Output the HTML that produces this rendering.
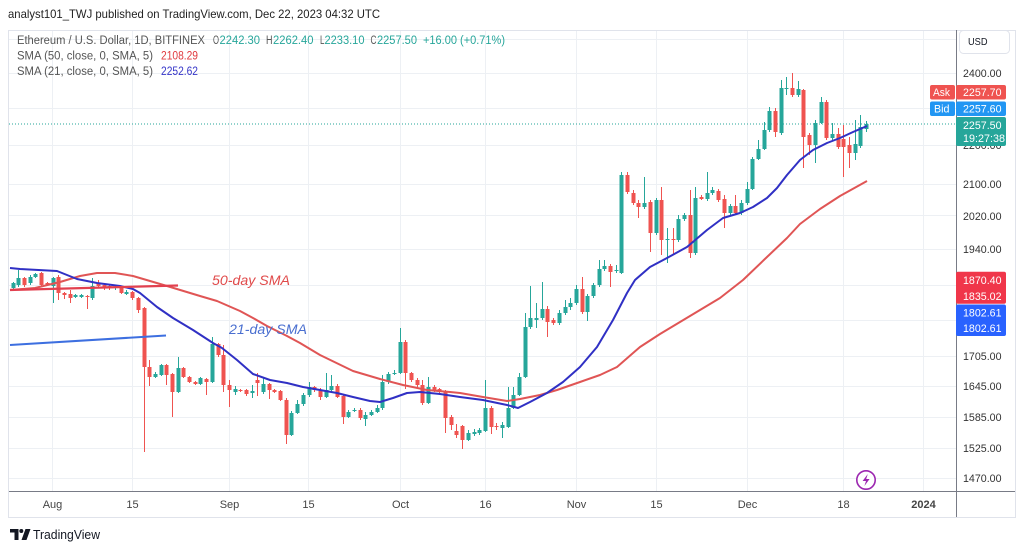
<!DOCTYPE html>
<html><head><meta charset="utf-8">
<style>
html,body{margin:0;padding:0;background:#fff;}
svg{display:block;}
text{font-family:"Liberation Sans",sans-serif;}
</style></head>
<body>
<svg id="s" width="1024" height="551" viewBox="0 0 1024 551" xmlns="http://www.w3.org/2000/svg">
<rect width="1024" height="551" fill="#fff"/>
<text x="8" y="18" font-size="12" fill="#222" textLength="372" lengthAdjust="spacingAndGlyphs">analyst101_TWJ published on TradingView.com, Dec 22, 2023 04:32 UTC</text>
<rect x="8.5" y="30.5" width="1007" height="487" fill="#fff" stroke="#e0e3eb"/>
<g stroke="#edf0f4" stroke-width="1">
<line x1="52.5" x2="52.5" y1="31" y2="491"/>
<line x1="132.5" x2="132.5" y1="31" y2="491"/>
<line x1="229.5" x2="229.5" y1="31" y2="491"/>
<line x1="308.5" x2="308.5" y1="31" y2="491"/>
<line x1="400.5" x2="400.5" y1="31" y2="491"/>
<line x1="485.5" x2="485.5" y1="31" y2="491"/>
<line x1="576.5" x2="576.5" y1="31" y2="491"/>
<line x1="656.5" x2="656.5" y1="31" y2="491"/>
<line x1="747.5" x2="747.5" y1="31" y2="491"/>
<line x1="843.5" x2="843.5" y1="31" y2="491"/>
<line x1="923.5" x2="923.5" y1="31" y2="491"/>
<line x1="9" x2="956" y1="39.5" y2="39.5"/>
<line x1="9" x2="956" y1="73.5" y2="73.5"/>
<line x1="9" x2="956" y1="108.5" y2="108.5"/>
<line x1="9" x2="956" y1="145.5" y2="145.5"/>
<line x1="9" x2="956" y1="184.5" y2="184.5"/>
<line x1="9" x2="956" y1="215.5" y2="215.5"/>
<line x1="9" x2="956" y1="249.5" y2="249.5"/>
<line x1="9" x2="956" y1="285.5" y2="285.5"/>
<line x1="9" x2="956" y1="320.5" y2="320.5"/>
<line x1="9" x2="956" y1="356.5" y2="356.5"/>
<line x1="9" x2="956" y1="386.5" y2="386.5"/>
<line x1="9" x2="956" y1="417.5" y2="417.5"/>
<line x1="9" x2="956" y1="448.5" y2="448.5"/>
<line x1="9" x2="956" y1="478.5" y2="478.5"/>
</g>
<line x1="9" x2="956" y1="124" y2="124" stroke="#26a69a" stroke-width="1" stroke-dasharray="1,2"/>
<g id="c"></g>
<polyline fill="none" stroke="#e05555" stroke-width="2" stroke-linejoin="round" points="10,290 35,288 60,282 80,276 97,273 115,273 133,276 150,281 167,286 200,296 217,301 240,311 253,318 267,326 287,336 300,343 320,355 353,371 380,379 403,385 427,390 450,392 460,393 483,397 507,401 520,399 540,395 557,390 580,382 600,375 617,367 640,347 660,334 690,316 720,298 743,280 767,257 787,238 800,224 820,209 840,196 867,181"/>
<polyline fill="none" stroke="#3030c4" stroke-width="2" stroke-linejoin="round" points="10,268 20,269 57,271 67,275 77,279 97,283 120,286 133,289 140,293 157,307 173,318 193,330 213,343 222,348 237,360 253,374 270,380 287,383 303,387 320,390 337,393 353,397 370,401 380,402 393,398 407,393 420,392 440,394 460,397 483,400 507,405 518,408 530,402 547,393 563,382 580,367 597,347 613,320 627,293 635,280 650,267 667,258 687,247 707,230 723,218 740,213 753,207 767,198 777,188 787,175 800,160 813,150 827,143 840,138 853,132 867,126"/>
<line x1="10" y1="290" x2="178" y2="285.5" stroke="#e2404f" stroke-width="2.2"/>
<line x1="10" y1="345" x2="166" y2="335.5" stroke="#3d6fe0" stroke-width="2"/>
<text x="212" y="285" font-size="14" font-style="italic" fill="#e04a4a" textLength="78" lengthAdjust="spacingAndGlyphs">50-day SMA</text>
<text x="229" y="334" font-size="14" font-style="italic" fill="#4a6fd0" textLength="78" lengthAdjust="spacingAndGlyphs">21-day SMA</text>

<!-- legend -->
<g font-size="11.5">
<text x="17" y="44" fill="#555" textLength="188" lengthAdjust="spacingAndGlyphs">Ethereum / U.S. Dollar, 1D, BITFINEX</text>
<text x="213" y="44" fill="#555" textLength="6" lengthAdjust="spacingAndGlyphs">O</text>
<text x="219.5" y="44" fill="#26a69a" textLength="40.5" lengthAdjust="spacingAndGlyphs">2242.30</text>
<text x="266" y="44" fill="#555" textLength="6.5" lengthAdjust="spacingAndGlyphs">H</text>
<text x="273" y="44" fill="#26a69a" textLength="40.5" lengthAdjust="spacingAndGlyphs">2262.40</text>
<text x="320" y="44" fill="#555" textLength="4.5" lengthAdjust="spacingAndGlyphs">L</text>
<text x="324.5" y="44" fill="#26a69a" textLength="40" lengthAdjust="spacingAndGlyphs">2233.10</text>
<text x="370.5" y="44" fill="#555" textLength="6" lengthAdjust="spacingAndGlyphs">C</text>
<text x="377" y="44" fill="#26a69a" textLength="40" lengthAdjust="spacingAndGlyphs">2257.50</text>
<text x="423" y="44" fill="#26a69a" textLength="82" lengthAdjust="spacingAndGlyphs">+16.00 (+0.71%)</text>
<text x="17" y="59.5" fill="#555" textLength="136" lengthAdjust="spacingAndGlyphs">SMA (50, close, 0, SMA, 5)</text>
<text x="161" y="59.5" fill="#e0393e" textLength="37" lengthAdjust="spacingAndGlyphs">2108.29</text>
<text x="17" y="75" fill="#555" textLength="136" lengthAdjust="spacingAndGlyphs">SMA (21, close, 0, SMA, 5)</text>
<text x="161" y="75" fill="#3535c8" textLength="37" lengthAdjust="spacingAndGlyphs">2252.62</text>
</g>

<!-- axes lines -->
<line x1="956.5" x2="956.5" y1="30" y2="517" stroke="#787b86" stroke-width="1"/>
<line x1="9" x2="1015" y1="491.5" y2="491.5" stroke="#787b86" stroke-width="1"/>

<!-- price labels -->
<g font-size="11" fill="#333">
<text x="963" y="77" textLength="38.5" lengthAdjust="spacingAndGlyphs">2400.00</text>
<text x="963" y="149" textLength="38.5" lengthAdjust="spacingAndGlyphs">2200.00</text>
<text x="963" y="188" textLength="38.5" lengthAdjust="spacingAndGlyphs">2100.00</text>
<text x="963" y="220" textLength="38.5" lengthAdjust="spacingAndGlyphs">2020.00</text>
<text x="963" y="253" textLength="38.5" lengthAdjust="spacingAndGlyphs">1940.00</text>
<text x="963" y="360" textLength="38.5" lengthAdjust="spacingAndGlyphs">1705.00</text>
<text x="963" y="390" textLength="38.5" lengthAdjust="spacingAndGlyphs">1645.00</text>
<text x="963" y="421" textLength="38.5" lengthAdjust="spacingAndGlyphs">1585.00</text>
<text x="963" y="452" textLength="38.5" lengthAdjust="spacingAndGlyphs">1525.00</text>
<text x="963" y="482" textLength="38.5" lengthAdjust="spacingAndGlyphs">1470.00</text>
</g>

<!-- USD -->
<rect x="959.5" y="30.5" width="50" height="23" rx="4" fill="#fff" stroke="#e0e3eb"/>
<text x="968" y="45" font-size="10.5" fill="#131722" textLength="19.5" lengthAdjust="spacingAndGlyphs">USD</text>

<!-- ask/bid -->
<rect x="930" y="85" width="25" height="14.5" rx="2" fill="#ef5350"/>
<text x="933" y="96" font-size="11" fill="#fff" textLength="17" lengthAdjust="spacingAndGlyphs">Ask</text>
<rect x="956" y="85" width="50" height="14.5" rx="2" fill="#ef5350"/>
<text x="963" y="96" font-size="11" fill="#fff" textLength="38.5" lengthAdjust="spacingAndGlyphs">2257.70</text>
<rect x="930" y="101.5" width="25" height="14.5" rx="2" fill="#2196f3"/>
<text x="934" y="112.5" font-size="11" fill="#fff" textLength="15.5" lengthAdjust="spacingAndGlyphs">Bid</text>
<rect x="956" y="101.5" width="50" height="14.5" rx="2" fill="#2196f3"/>
<text x="963" y="112.5" font-size="11" fill="#fff" textLength="38.5" lengthAdjust="spacingAndGlyphs">2257.60</text>
<rect x="956" y="117" width="50" height="29" rx="2" fill="#26a69a"/>
<text x="963" y="129" font-size="11" fill="#fff" textLength="38.5" lengthAdjust="spacingAndGlyphs">2257.50</text>
<text x="963" y="142" font-size="11" fill="#fff" textLength="42" lengthAdjust="spacingAndGlyphs">19:27:38</text>

<!-- SMA labels -->
<rect x="956" y="271.7" width="50" height="32" rx="2" fill="#f0364a"/>
<text x="963" y="284" font-size="11" fill="#fff" textLength="38.5" lengthAdjust="spacingAndGlyphs">1870.40</text>
<text x="963" y="300" font-size="11" fill="#fff" textLength="38.5" lengthAdjust="spacingAndGlyphs">1835.02</text>
<rect x="956" y="304.5" width="50" height="31.5" rx="2" fill="#2962ff"/>
<text x="963" y="316.5" font-size="11" fill="#fff" textLength="38.5" lengthAdjust="spacingAndGlyphs">1802.61</text>
<text x="963" y="332" font-size="11" fill="#fff" textLength="38.5" lengthAdjust="spacingAndGlyphs">1802.61</text>

<!-- time labels -->
<g font-size="11" fill="#444" text-anchor="middle">
<text x="52.5" y="508">Aug</text>
<text x="132.5" y="508">15</text>
<text x="229.5" y="508">Sep</text>
<text x="308.5" y="508">15</text>
<text x="400.5" y="508">Oct</text>
<text x="485.5" y="508">16</text>
<text x="576.5" y="508">Nov</text>
<text x="656.5" y="508">15</text>
<text x="747.5" y="508">Dec</text>
<text x="843.5" y="508">18</text>
<text x="923.5" y="508" font-weight="bold">2024</text>
</g>

<!-- lightning icon -->
<circle cx="866" cy="480" r="9.2" fill="#fff" stroke="#9c27b0" stroke-width="1.6"/>
<path d="M867.8,474 L862.6,481 L866,481 L864.4,486 L869.6,479 L866.2,479 Z" fill="#9c27b0"/>

<!-- TradingView logo -->
<g fill="#131722">
<path d="M10,529 H18.5 V540 H14.5 V532.5 H10 Z"/>
<circle cx="21.3" cy="531" r="2"/>
<path d="M25.5,529 H30.5 L26.5,540 H21.5 Z"/>
</g>
<text x="33" y="539" font-size="13" fill="#131722" textLength="67" lengthAdjust="spacingAndGlyphs">TradingView</text>
</svg>
<script>
const D=[
[288,283,282,289],[285,278,270,287],[278,285,277,287],[283,277,275,285],[277,274,273,278],
[273,285,272,287],[283,285,282,286],[286,278,277,303],[277,293,275,300],[293,295,292,299],
[294,298,290,303],[297,295,294,298],[297,295,294,298],[296,297,295,309],[298,286,278,300],
[283,286,280,287],[285,288,283,290],[286,288,285,290],[288,287,286,290],[287,293,286,294],
[294,292,290,295],[292,298,291,300],[298,310,297,313],[308,367,307,452],[367,377,360,386],
[377,374,372,378],[375,365,364,376],[365,375,364,385],[374,392,373,417],[392,368,357,393],
[368,377,367,378],[377,382,376,383],[382,384,381,385],[384,378,377,385],[379,382,378,395],
[382,344,337,383],[344,355,343,357],[355,385,345,392],[385,390,380,407],[392,389,386,395],
[390,391,389,392],[390,394,389,396],[393,391,385,398],[380,383,373,396],[392,384,378,394],
[384,390,383,399],[390,392,389,393],[391,400,390,401],[400,435,398,444],[435,413,411,436],
[413,404,400,414],[404,395,393,406],[395,387,382,397],[387,390,386,392],[391,397,388,400],
[397,390,373,398],[390,386,375,392],[386,397,384,398],[396,417,395,424],[417,412,410,418],
[411,410,408,412],[410,418,408,420],[419,415,412,426],[415,412,410,416],[412,408,405,413],
[408,382,375,410],[382,374,372,384],[374,373,370,375],[373,342,328,374],[342,373,340,389],
[373,380,372,382],[380,385,378,387],[385,403,380,405],[403,387,377,404],[387,390,385,392],
[389,392,388,395],[392,418,390,433],[417,425,415,430],[431,435,424,438],[426,440,425,449],
[440,433,430,441],[434,432,429,436],[433,430,428,435],[431,408,380,432],[408,427,406,434],
[426,427,423,430],[428,425,422,438],[427,408,387,428],[408,395,387,409],[395,377,373,396],
[377,327,313,378],[327,318,286,329],[320,318,303,328],[318,309,282,320],[309,322,306,337],
[320,323,318,325],[323,313,310,325],[313,307,300,315],[307,303,298,310],[303,289,285,305],
[289,312,277,314],[312,296,294,321],[296,285,283,298],[285,269,260,287],[269,266,260,271],
[266,272,264,287],[271,270,265,273],[273,175,172,274],[175,192,172,194],[193,203,190,205],
[203,207,200,218],[207,203,177,209],[202,233,200,252],[233,200,198,235],[200,240,187,255],
[240,239,228,263],[239,240,228,255],[240,219,215,242],[219,215,213,221],[215,253,190,258],
[253,198,187,255],[197,199,195,200],[199,193,172,201],[193,190,187,195],[191,200,189,202],
[199,213,195,228],[213,206,204,215],[206,213,195,215],[213,203,200,215],[203,189,182,205],
[189,159,157,190],[159,149,140,160],[149,130,122,150],[130,111,107,132],[111,132,108,137],
[133,88,80,135],[89,88,77,95],[88,95,73,97],[95,89,81,97],[90,137,89,168],
[135,145,133,155],[145,123,120,163],[123,102,97,124],[102,138,100,140],[138,134,123,140],
[134,147,128,149],[139,147,125,177],[145,153,137,168],[153,144,120,160],[146,127,115,148],
[129,124,121,132]
];
const NS="http://www.w3.org/2000/svg";
const g=document.getElementById('c');
D.forEach((d,i)=>{
  const xr=Math.round(12.7+5.689*i);
  const o=d[0],c=d[1],hi=d[2],lo=d[3];
  const col=c<=o?'#26a69a':'#ef5350';
  const l=document.createElementNS(NS,'line');
  l.setAttribute('x1',xr+0.5);l.setAttribute('x2',xr+0.5);
  l.setAttribute('y1',hi);l.setAttribute('y2',lo);
  l.setAttribute('stroke',col);l.setAttribute('stroke-width','1');
  g.appendChild(l);
  const r=document.createElementNS(NS,'rect');
  r.setAttribute('x',xr-1.5);r.setAttribute('y',Math.min(o,c));
  r.setAttribute('width',4);r.setAttribute('height',Math.max(Math.abs(o-c),1));
  r.setAttribute('fill',col);
  g.appendChild(r);
});
</script>
</body>
</html>
